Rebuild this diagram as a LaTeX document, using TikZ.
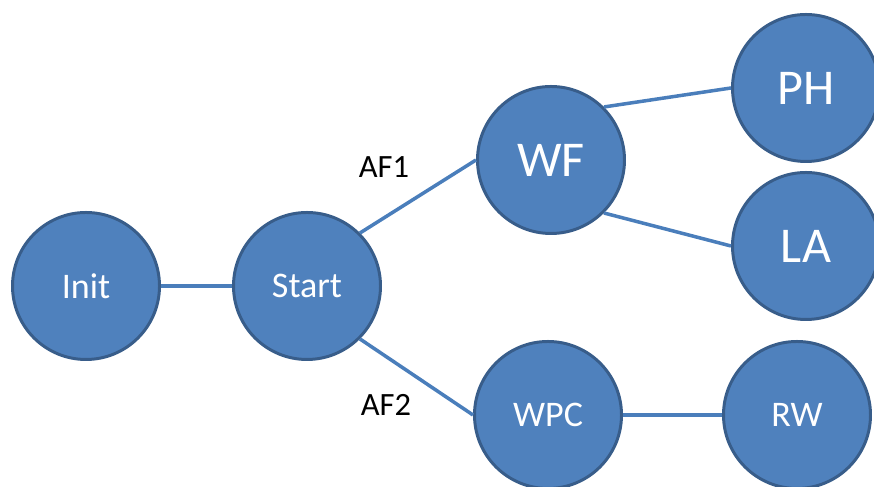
\documentclass[tikz,border=0pt]{standalone}
\usepackage{fontspec}
\setmainfont{Carlito}

\definecolor{stateblue}{HTML}{4F81BD}
\definecolor{stateedge}{HTML}{385D8A}
\definecolor{linkblue}{HTML}{4A7EBB}

\tikzset{
  state/.style={circle, fill=stateblue, draw=stateedge, line width=1.7pt,
    minimum size=2.94cm, inner sep=0pt, text=white,
    font=\fontsize{20.5}{24}\selectfont},
  bigstate/.style={state, font=\fontsize{28.5}{34}\selectfont},
  link/.style={draw=linkblue, line width=2pt},
  linklabel/.style={font=\fontsize{18.5}{22}\selectfont}
}

\begin{document}
\begin{tikzpicture}
        % Page frame
        \useasboundingbox (0,0) rectangle (17.48,9.74);

        % States
        \node[state] (init) at (1.72,4.02) {Init};
        \node[state] (start) at (6.14,4.02) {Start};
        \node[bigstate] (wf) at (11.02,6.54) {WF};
        \node[bigstate] (ph) at (16.12,7.98) {PH};
        \node[bigstate] (la) at (16.12,4.82) {LA};
        \node[state] (wpc) at (10.96,1.44) {WPC};
        \node[state] (rw) at (15.94,1.44) {RW};

        % Transitions
        \draw[link] (init.east) -- (start.west);
        \draw[link] (start.north east) -- (wf.west);
        \draw[link] (start.south east) -- (wpc.west);
        \draw[link] (wf.north east) -- (ph.west);
        \draw[link] (wf.south east) -- (la.west);
        \draw[link] (wpc.east) -- (rw.west);

        % Transition labels
        \node[linklabel] (af1) at (7.68,6.40) {AF1};
        \node[linklabel] (af2) at (7.72,1.64) {AF2};
\end{tikzpicture}
\end{document}
